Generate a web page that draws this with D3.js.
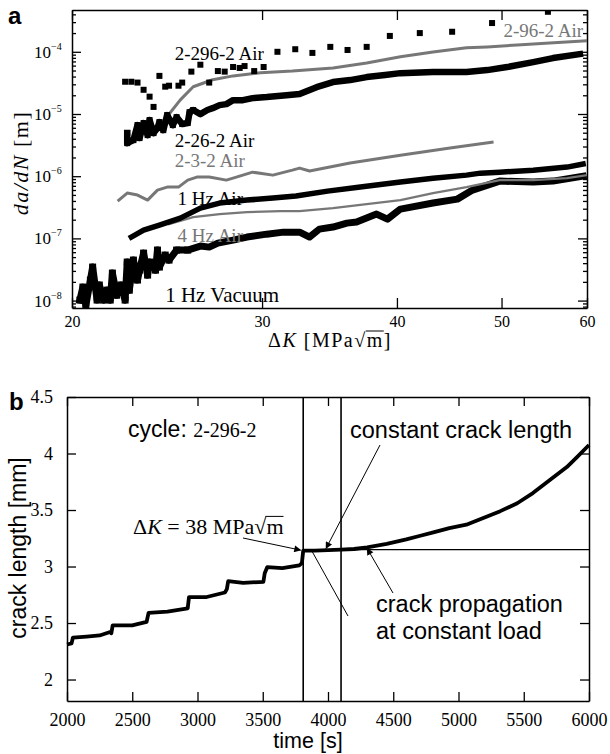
<!DOCTYPE html>
<html>
<head>
<meta charset="utf-8">
<script src="https://cdn.jsdelivr.net/npm/d3@7"></script>
<style>
  body { margin: 0; background: #fff; }
  svg { display: block; }
</style>
</head>
<body>
<svg id="chart" width="610" height="754"></svg>
<script>
// ---- panel a : da/dN vs dK (log-log) ----
const kTicks = [20, 30, 40, 50, 60];
const rateDecades = [1e-8, 1e-7, 1e-6, 1e-5, 1e-4];
const rateExp = ['\u22128', '\u22127', '\u22126', '\u22125', '\u22124'];

// 2-296-2 Air (scattered dots)
const k2296 = [22.4, 22.7, 23.0, 23.3, 23.6, 23.8, 24.1, 24.4, 24.6, 25.1, 25.3, 25.8, 26.3, 26.8, 27.3, 27.7, 28.2, 28.6, 28.9, 29.5, 30.1, 31.0, 32.2, 33.4, 34.7, 36.0, 37.5, 39.4, 42.0, 45.0, 49.0, 55.2];
const r2296 = [3.3e-5, 3.3e-5, 3.2e-5, 2.45e-5, 1.9e-5, 1.3e-5, 4.1e-5, 2.75e-5, 2.85e-5, 2.85e-5, 3.2e-5, 4.8e-5, 6.2e-5, 3.2e-5, 4.9e-5, 4.8e-5, 5.7e-5, 5.5e-5, 5.9e-5, 4.9e-5, 5.7e-5, 1.0e-4, 1.1e-4, 9.6e-5, 1.2e-4, 1.07e-4, 1.2e-4, 1.8e-4, 2.0e-4, 2.1e-4, 2.9e-4, 4.4e-4];

// 2-96-2 Air (grey)
const k2962 = [24.5, 25.2, 25.9, 27.0, 28.2, 29.9, 32.0, 34.9, 37.5, 40.3, 43.2, 46.4, 48.5, 51.7, 55.4, 60];
const r2962 = [9.1e-6, 1.69e-5, 2.74e-5, 3.55e-5, 4.1e-5, 4.6e-5, 4.9e-5, 5.5e-5, 6.6e-5, 8.3e-5, 9.95e-5, 1.16e-4, 1.2e-4, 1.29e-4, 1.39e-4, 1.5e-4];

// 2-26-2 Air (black)
const k2262 = [22.5, 22.5, 22.8, 23.0, 23.1, 23.3, 23.5, 23.6, 23.8, 24.0, 24.1, 24.3, 24.5, 24.8, 25.0, 25.3, 25.6, 25.7, 25.9, 26.3, 26.7, 27.0, 27.4, 27.8, 28.2, 28.8, 29.4, 30.3, 31.6, 32.5, 33.7, 34.9, 36.2, 37.5, 39.0, 40.3, 43.2, 46.4, 48.5, 50.6, 53.5, 55.8, 59.1];
const r2262 = [4.93e-6, 3.4e-6, 3.8e-6, 6.64e-6, 4.1e-6, 7.15e-6, 4.58e-6, 7.98e-6, 4.93e-6, 5.93e-6, 7.41e-6, 5.5e-6, 9.6e-6, 6.64e-6, 8.9e-6, 6.89e-6, 7.15e-6, 1.07e-5, 1.16e-5, 9.96e-6, 1.16e-5, 1.24e-5, 1.39e-5, 1.44e-5, 1.67e-5, 1.67e-5, 1.8e-5, 1.87e-5, 2.01e-5, 2.09e-5, 2.7e-5, 3.26e-5, 3.51e-5, 3.92e-5, 4.22e-5, 4.54e-5, 4.72e-5, 4.72e-5, 5.08e-5, 5.68e-5, 6.82e-5, 7.93e-5, 9.18e-5];

// 2-3-2 Air (grey)
const k232 = [22.1, 22.5, 23.0, 23.5, 24.0, 24.5, 25.1, 25.6, 26.1, 26.8, 27.8, 28.4, 29.4, 30.7, 32.0, 32.5, 33.2, 36.2, 40.3, 44.8, 49.0];
const r232 = [4.13e-7, 5.35e-7, 4.97e-7, 4.13e-7, 5.98e-7, 6.68e-7, 6.68e-7, 8.65e-7, 9.68e-7, 9.68e-7, 8.65e-7, 9.68e-7, 1.16e-6, 1.04e-6, 1.25e-6, 1.35e-6, 1.21e-6, 1.63e-6, 2.18e-6, 2.83e-6, 3.53e-6];

// 1 Hz Air (black)
const k1Air = [22.7, 23.3, 24.1, 25.2, 26.3, 27.4, 29.05, 30.7, 32.25, 34.5, 37.0, 40.3, 43.2, 46.4, 47.8, 49.8, 53.5, 57.5, 59.5];
const r1Air = [1.05e-7, 1.36e-7, 1.64e-7, 2.12e-7, 3.07e-7, 3.7e-7, 4.13e-7, 4.45e-7, 4.79e-7, 5.75e-7, 6.68e-7, 8.04e-7, 9.3e-7, 1.04e-6, 1.12e-6, 1.16e-6, 1.25e-6, 1.4e-6, 1.57e-6];

// 4 Hz Air (grey)
const k4Air = [24.6, 25.9, 27.4, 29.05, 31.2, 32.5, 34.9, 37.5, 40.3, 43.2, 46.4, 49.8, 53.5, 57.5, 60];
const r4Air = [1.7e-7, 2.2e-7, 2.46e-7, 2.65e-7, 2.75e-7, 2.75e-7, 3.07e-7, 3.56e-7, 4.13e-7, 5.35e-7, 6.68e-7, 8.65e-7, 8.65e-7, 9.3e-7, 1.04e-6];

// 1 Hz Vacuum (black)
const kVac = [20.34, 20.47, 20.6, 20.8, 20.9, 21.1, 21.2, 21.4, 21.55, 21.7, 21.8, 22.0, 22.2, 22.4, 22.5, 22.6, 22.8, 23.0, 23.1, 23.3, 23.5, 23.6, 23.9, 24.0, 24.1, 24.4, 24.6, 25.0, 25.6, 26.3, 26.8, 27.3, 28.2, 29.05, 30.3, 31.4, 32.5, 33.2, 33.9, 34.9, 35.95, 36.7, 38.3, 39.2, 40.3, 43.2, 45.5, 47.0, 49.8, 53.5, 55.8, 59.5];
const rVac = [1.02e-8, 1.65e-8, 8.47e-9, 2.14e-8, 3.46e-8, 1.02e-8, 1.78e-8, 1.02e-8, 1.47e-8, 1.02e-8, 2.77e-8, 1.22e-8, 1.78e-8, 1.02e-8, 4.16e-8, 1.47e-8, 4.48e-8, 2.14e-8, 3.09e-8, 5.8e-8, 2.57e-8, 4.16e-8, 3.09e-8, 6.49e-8, 3.46e-8, 5.39e-8, 4.48e-8, 6.49e-8, 6.49e-8, 7.52e-8, 7.24e-8, 8.4e-8, 9.4e-8, 1.05e-7, 1.17e-7, 1.26e-7, 1.26e-7, 1.05e-7, 1.41e-7, 1.52e-7, 1.76e-7, 1.83e-7, 2.46e-7, 2.04e-7, 2.96e-7, 3.7e-7, 4.28e-7, 5.98e-7, 8.34e-7, 8.04e-7, 8.34e-7, 1.0e-6];

// ---- panel b : crack length vs time ----
const timeTicks = [2000, 2500, 3000, 3500, 4000, 4500, 5000, 5500, 6000];
const lengthTicks = [2, 2.5, 3, 3.5, 4, 4.5];
const timeS = [2000, 2035, 2045, 2150, 2250, 2330, 2340, 2350, 2500, 2610, 2625, 2770, 2925, 2935, 3070, 3210, 3225, 3235, 3350, 3505, 3515, 3535, 3650, 3780, 3800, 3810, 3900, 4000, 4100, 4200, 4300, 4450, 4600, 4700, 4800, 4930, 5060, 5190, 5320, 5450, 5570, 5700, 5830, 5910, 6000];
const crackMm = [2.31, 2.32, 2.37, 2.38, 2.39, 2.42, 2.41, 2.48, 2.48, 2.51, 2.59, 2.60, 2.63, 2.73, 2.73, 2.77, 2.80, 2.87, 2.855, 2.865, 2.94, 2.995, 2.985, 3.01, 3.03, 3.14, 3.14, 3.145, 3.15, 3.155, 3.17, 3.20, 3.24, 3.27, 3.30, 3.34, 3.37, 3.43, 3.49, 3.56, 3.65, 3.765, 3.88, 3.97, 4.075];
const markTimes = [3810, 4100];
const constLength = 3.15;

const SERIF = '"Liberation Serif", "Times New Roman", serif';
const SANS = '"Liberation Sans", Arial, sans-serif';

const svg = d3.select('#chart');
svg.append('defs').append('marker')
  .attr('id', 'arrow')
  .attr('viewBox', '0 0 10 10')
  .attr('refX', 9).attr('refY', 5)
  .attr('markerWidth', 8).attr('markerHeight', 7)
  .attr('markerUnits', 'userSpaceOnUse')
  .attr('orient', 'auto')
  .append('path').attr('d', 'M0,0 L10,5 L0,10 Z').attr('fill', '#000');

// bar over the radicand of a text (char index of the letter under the root)
function rootBar(textSel, idx, size) {
  const node = textSel.node();
  const root = node.getExtentOfChar(idx - 1);
  const m = node.getExtentOfChar(idx);
  const base = +textSel.attr('y');
  textSel.select(function () { return this.parentNode; }).append('line')
    .attr('x1', root.x + root.width - 1).attr('x2', m.x + m.width)
    .attr('y1', base - size * 0.8).attr('y2', base - size * 0.8)
    .attr('stroke', '#000').attr('stroke-width', 1);
}

// ================= panel a =================
const xA = d3.scaleLog().domain([20, 60]).range([72, 587]);
const yA = d3.scaleLog().domain([7.6e-9, 4.7e-4]).range([308, 10]);

const minors = [];
for (let e = -9; e <= -4; e++) {
  for (let m = 2; m <= 9; m++) {
    const v = m * Math.pow(10, e);
    if (v > 7.6e-9 && v < 4.7e-4) minors.push(v);
  }
}

const gA = svg.append('g');
svg.append('clipPath').attr('id', 'clipA')
  .append('rect').attr('x', 72).attr('y', 10).attr('width', 515).attr('height', 298);

function styleAxis(g) {
  g.select('.domain').attr('stroke', '#000').attr('stroke-width', 1.5);
  g.selectAll('.tick line').attr('stroke', '#000').attr('stroke-width', 1.3);
}

gA.append('g').attr('transform', 'translate(0,308)')
  .call(d3.axisBottom(xA).tickValues(kTicks).tickFormat(d3.format('d')).tickSizeInner(-10).tickSizeOuter(0).tickPadding(8))
  .call(styleAxis)
  .call(g => g.selectAll('text').attr('font-family', SERIF).attr('font-size', 16).attr('fill', '#000'));
gA.append('g').attr('transform', 'translate(0,10)')
  .call(d3.axisTop(xA).tickValues(kTicks).tickFormat('').tickSizeInner(-10).tickSizeOuter(0))
  .call(styleAxis);
[[72, d3.axisLeft], [587, d3.axisRight]].forEach(([x, ax]) => {
  gA.append('g').attr('transform', `translate(${x},0)`)
    .call(ax(yA).tickValues(rateDecades).tickFormat('').tickSizeInner(-9).tickSizeOuter(0))
    .call(styleAxis);
  gA.append('g').attr('transform', `translate(${x},0)`)
    .call(ax(yA).tickValues(minors).tickFormat('').tickSizeInner(-4).tickSizeOuter(0))
    .call(styleAxis)
    .call(g => g.select('.domain').remove());
});

// y tick labels 10^n
rateDecades.forEach((d, i) => {
  const t = gA.append('text').attr('x', 34).attr('y', yA(d) + 6)
    .attr('font-family', SERIF).attr('font-size', 17).attr('fill', '#000');
  t.append('tspan').text('10');
  t.append('tspan').attr('dy', -8).attr('font-size', 10).text(rateExp[i]);
});

const plotA = gA.append('g').attr('clip-path', 'url(#clipA)');
const lineA = d3.line().x(d => xA(d[0])).y(d => yA(d[1]));
const zipA = (k, r) => k.map((v, i) => [v, r[i]]);

const curves = [
  { k: kVac, r: rVac, color: '#000', w: 7, sq: 7 },
  { k: k4Air, r: r4Air, color: '#777', w: 2.2, sq: 0 },
  { k: k1Air, r: r1Air, color: '#000', w: 5.5, sq: 0 },
  { k: k232, r: r232, color: '#777', w: 3, sq: 0 },
  { k: k2962, r: r2962, color: '#777', w: 3, sq: 0 },
  { k: k2262, r: r2262, color: '#000', w: 6.5, sq: 6 }
];
curves.forEach(c => {
  const pts = zipA(c.k, c.r);
  plotA.append('path').datum(pts)
    .attr('d', lineA).attr('fill', 'none')
    .attr('stroke', c.color).attr('stroke-width', c.w)
    .attr('stroke-linejoin', 'round').attr('stroke-linecap', 'square');
  if (c.sq) {
    plotA.append('g').selectAll('rect').data(pts.filter(p => p[0] < 26)).enter().append('rect')
      .attr('x', d => xA(d[0]) - c.sq / 2).attr('y', d => yA(d[1]) - c.sq / 2)
      .attr('width', c.sq).attr('height', c.sq).attr('fill', c.color);
  }
});
plotA.append('g').selectAll('rect').data(zipA(k2296, r2296)).enter().append('rect')
  .attr('x', d => xA(d[0]) - 3).attr('y', d => yA(d[1]) - 3)
  .attr('width', 6).attr('height', 6).attr('fill', '#000');

const labelsA = [
  { t: '2-296-2 Air', k: 24.9, r: 7.4e-5, c: '#000', s: 19 },
  { t: '2-96-2 Air', k: 50.2, r: 1.72e-4, c: '#777', s: 19 },
  { t: '2-26-2 Air', k: 24.9, r: 2.94e-6, c: '#000', s: 19 },
  { t: '2-3-2 Air', k: 24.9, r: 1.4e-6, c: '#777', s: 19 },
  { t: '1 Hz Air', k: 25.05, r: 3.45e-7, c: '#000', s: 19 },
  { t: '4 Hz Air', k: 25.05, r: 8.7e-8, c: '#777', s: 19 },
  { t: '1 Hz Vacuum', k: 24.4, r: 9.4e-9, c: '#000', s: 21 }
];
labelsA.forEach(l => {
  plotA.append('text').attr('x', xA(l.k)).attr('y', yA(l.r))
    .attr('font-family', SERIF).attr('font-size', l.s).attr('fill', l.c).text(l.t);
});

// axis titles a
const xtA = gA.append('text').attr('x', 330).attr('y', 347).attr('text-anchor', 'middle')
  .attr('font-family', SERIF).attr('font-size', 20).attr('letter-spacing', 1.5).attr('fill', '#000');
xtA.append('tspan').text('\u0394');
xtA.append('tspan').attr('font-style', 'italic').text('K');
xtA.append('tspan').text(' [MPa\u221Am]');
rootBar(xtA, 8, 20);

const ytA = gA.append('text').attr('transform', 'translate(28,163) rotate(-90)').attr('text-anchor', 'middle')
  .attr('font-family', SERIF).attr('font-size', 22).attr('letter-spacing', 1.5).attr('fill', '#000');
ytA.append('tspan').attr('font-style', 'italic').text('da/dN');
ytA.append('tspan').text(' [m]');

svg.append('text').attr('x', 8).attr('y', 24).attr('font-family', SANS).attr('font-weight', 'bold')
  .attr('font-size', 24).text('a');

// ================= panel b =================
const xB = d3.scaleLinear().domain([2000, 6000]).range([67, 589]);
const yB = d3.scaleLinear().domain([1.81, 4.5]).range([701, 397]);
const gB = svg.append('g');

gB.append('g').attr('transform', 'translate(0,701)')
  .call(d3.axisBottom(xB).tickValues(timeTicks).tickFormat(d3.format('d')).tickSizeInner(-9).tickSizeOuter(0).tickPadding(12))
  .call(styleAxis)
  .call(g => g.selectAll('text').attr('font-family', SERIF).attr('font-size', 18).attr('fill', '#000'));
gB.append('g').attr('transform', 'translate(0,397)')
  .call(d3.axisTop(xB).tickValues(timeTicks).tickFormat('').tickSizeInner(-9).tickSizeOuter(0))
  .call(styleAxis);
gB.append('g').attr('transform', 'translate(67,0)')
  .call(d3.axisLeft(yB).tickValues(lengthTicks).tickFormat(d3.format('~g')).tickSizeInner(-9).tickSizeOuter(0).tickPadding(14))
  .call(styleAxis)
  .call(g => g.selectAll('text').attr('font-family', SERIF).attr('font-size', 18).attr('fill', '#000'));
gB.append('g').attr('transform', 'translate(589,0)')
  .call(d3.axisRight(yB).tickValues(lengthTicks).tickFormat('').tickSizeInner(-9).tickSizeOuter(0))
  .call(styleAxis);

// reference lines
markTimes.forEach(t => {
  gB.append('line').attr('x1', xB(t)).attr('x2', xB(t)).attr('y1', yB(1.81)).attr('y2', yB(4.5))
    .attr('stroke', '#000').attr('stroke-width', 1.6);
});
gB.append('line').attr('x1', xB(markTimes[0])).attr('x2', xB(6000))
  .attr('y1', yB(constLength)).attr('y2', yB(constLength))
  .attr('stroke', '#000').attr('stroke-width', 1.3);

gB.append('path').datum(timeS.map((t, i) => [t, crackMm[i]]))
  .attr('d', d3.line().x(d => xB(d[0])).y(d => yB(d[1])))
  .attr('fill', 'none').attr('stroke', '#000').attr('stroke-width', 3.8)
  .attr('stroke-linejoin', 'round');

// annotations b
const cyc = gB.append('text').attr('x', 128).attr('y', 437).attr('fill', '#000');
cyc.append('tspan').attr('font-family', SANS).attr('font-size', 23).text('cycle: ');
cyc.append('tspan').attr('font-family', SERIF).attr('font-size', 20).text('2-296-2');

const dk = gB.append('text').attr('x', 133).attr('y', 534).attr('font-family', SERIF).attr('font-size', 22).attr('fill', '#000');
dk.append('tspan').text('\u0394');
dk.append('tspan').attr('font-style', 'italic').text('K');
dk.append('tspan').text(' = 38 MPa\u221Am');
rootBar(dk, 12, 22);

gB.append('text').attr('x', 350).attr('y', 438).attr('font-family', SANS).attr('font-size', 23.5).text('constant crack length');
gB.append('text').attr('x', 376).attr('y', 612).attr('font-family', SANS).attr('font-size', 23.5).text('crack propagation');
gB.append('text').attr('x', 376).attr('y', 639).attr('font-family', SANS).attr('font-size', 23.5).text('at constant load');

const arrows = [
  { x1: 2000 + (243 - 67) / 0.1305, y1: 4.5 - (538 - 397) / 113, x2: 3790, y2: 3.145, head: true },
  { x1: 2000 + (380 - 67) / 0.1305, y1: 4.5 - (445 - 397) / 113, x2: 3985, y2: 3.16, head: true },
  { x1: 2000 + (393 - 67) / 0.1305, y1: 4.5 - (593 - 397) / 113, x2: 4300, y2: 3.16, head: true },
  { x1: 2000 + (348 - 67) / 0.1305, y1: 4.5 - (616 - 397) / 113, x2: 3880, y2: 3.13, head: false }
];
arrows.forEach(a => {
  gB.append('line').attr('x1', xB(a.x1)).attr('y1', yB(a.y1)).attr('x2', xB(a.x2)).attr('y2', yB(a.y2))
    .attr('stroke', '#000').attr('stroke-width', 1)
    .attr('marker-end', a.head ? 'url(#arrow)' : null);
});

svg.append('text').attr('x', 308).attr('y', 748).attr('text-anchor', 'middle')
  .attr('font-family', SANS).attr('font-size', 21.5).text('time [s]');
svg.append('text').attr('transform', 'translate(26,548) rotate(-90)').attr('text-anchor', 'middle')
  .attr('font-family', SANS).attr('font-size', 23).text('crack length [mm]');
svg.append('text').attr('x', 9).attr('y', 410).attr('font-family', SANS).attr('font-weight', 'bold')
  .attr('font-size', 24).text('b');
</script>
</body>
</html>
